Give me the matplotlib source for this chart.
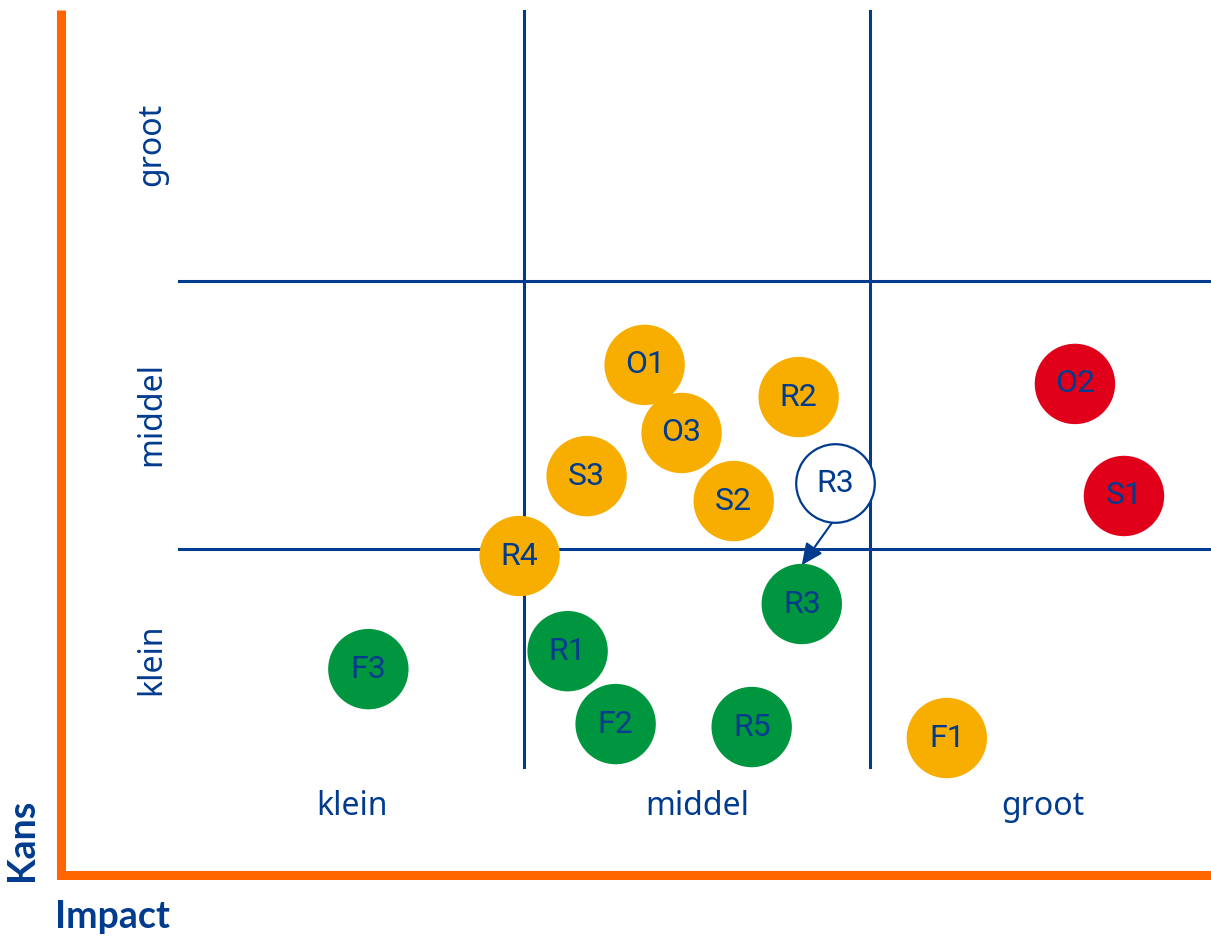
import matplotlib
matplotlib.use("Agg")
import matplotlib.pyplot as plt

# risk matrix: impact (x) and kans (y) on a 0..3 scale, class boundaries at 1 and 2
labels = ["O1", "O3", "R2", "S3", "S2", "R4", "R3", "R1", "F3", "F2", "R5", "F1", "O2", "S1"]
impact = [1.348, 1.455, 1.794, 1.180, 1.606, 0.986, 1.803, 1.125, 0.548, 1.264, 1.658, 2.223, 2.594, 2.736]
kans = [1.687, 1.433, 1.567, 1.272, 1.179, 0.974, 0.795, 0.619, 0.552, 0.347, 0.336, 0.295, 1.616, 1.198]
level = ["mid", "mid", "mid", "mid", "mid", "mid", "low", "low", "low", "low", "low", "mid", "high", "high"]

# previous position of R3 (shown as outline) and the arrow towards its new spot
old_label = "R3"
old_impact, old_kans = 1.899, 1.246
arrow_start = (1.890, 1.097)
arrow_end = (1.803, 0.940)

class_names = ["klein", "middel", "groot"]

navy = "#003b8e"
orange_axis = "#ff6600"
colors = {"low": "#00963f", "mid": "#f8ae00", "high": "#e1001a"}

fig = plt.figure(figsize=(12.11, 9.40), dpi=100)
ax = fig.add_axes([61 / 1211, 65 / 940, 1 - 61 / 1211, 865 / 940])
ax.set_xlim(-0.342, 2.988)
ax.set_ylim(-0.216, 3.011)

for s in ["top", "right"]:
    ax.spines[s].set_visible(False)
for s in ["left", "bottom"]:
    ax.spines[s].set_color(orange_axis)
    ax.spines[s].set_linewidth(6.5)
ax.spines["left"].set_capstyle("butt")
ax.spines["bottom"].set_capstyle("projecting")
ax.set_xticks([])
ax.set_yticks([])

# grid lines
for xb in [1, 2]:
    ax.plot([xb, xb], [0.187, 3.011], color=navy, lw=2.2, zorder=1)
for yb in [1, 2]:
    ax.plot([0, 2.988], [yb, yb], color=navy, lw=2.2, zorder=1)

# class labels
for i, name in enumerate(class_names):
    ax.text(i + 0.5, 0.04, name, ha="center", va="center", fontsize=23,
            color=navy, family="Noto Sans")
row_centers = [0.59, 1.505, 2.51]
for yc, name in zip(row_centers, class_names):
    ax.text(-0.08, yc, name, ha="center", va="center", rotation=90,
            fontsize=23, color=navy, family="Noto Sans")

# bubbles
ax.scatter(impact, kans, s=3350, c=[colors[l] for l in level], linewidths=0, zorder=3)
for lab, x, y in zip(labels, impact, kans):
    ax.text(x, y, lab, ha="center", va="center", fontsize=23, color=navy,
            family="Roboto", zorder=4)

ax.scatter([old_impact], [old_kans], s=3200, facecolor="white", edgecolor=navy,
           linewidths=1.6, zorder=3)
ax.text(old_impact, old_kans, old_label, ha="center", va="center", fontsize=23,
        color=navy, family="Roboto", zorder=4)
ax.annotate("", xy=arrow_end, xytext=arrow_start,
            arrowprops=dict(arrowstyle="-|>,head_length=1.3,head_width=0.6",
                            color=navy, lw=1.5, shrinkA=0, shrinkB=0),
            zorder=5)

# axis titles
fig.text(55 / 1211, 1 - 917 / 940, "Impact", ha="left", va="center",
         fontsize=27, fontweight="bold", color=navy, family="Lato")
fig.text(22 / 1211, 1 - 840 / 940, "Kans", ha="center", va="center", rotation=90,
         fontsize=27, fontweight="bold", color=navy, family="Lato")

fig.savefig("out.png", dpi=100)
